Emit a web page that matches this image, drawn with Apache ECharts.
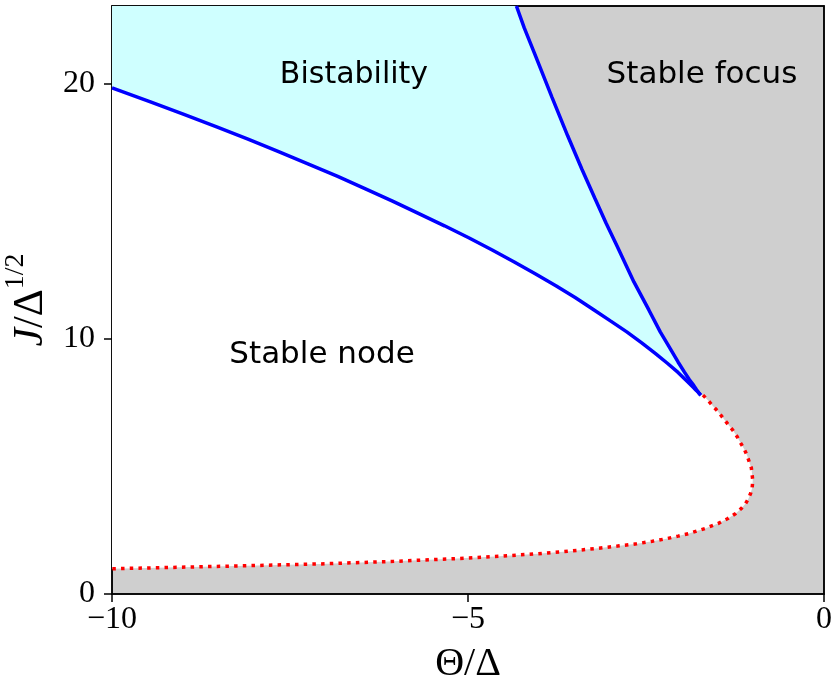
<!DOCTYPE html>
<html>
<head>
<meta charset="utf-8">
<script src="https://cdn.jsdelivr.net/npm/echarts@6/dist/echarts.min.js"></script>
<style>html,body{margin:0;padding:0;background:#fff}#c{width:834px;height:689px}</style>
</head>
<body>
<div id="c"></div>
<script>
// Axis ranges / ticks
const xMin = -10, xMax = 0, xTicks = [-10, -5, 0];
const yMin = 0, yMax = 23.06, yTicks = [0, 10, 20];

// Upper saddle-node branch (blue), from left edge to the cusp
const upperBranch = [
  [-10.0, 19.85], [-9.46, 19.30], [-8.99, 18.81], [-8.53, 18.32], [-8.09, 17.84],
  [-7.66, 17.35], [-7.24, 16.86], [-6.83, 16.38], [-6.44, 15.89], [-6.06, 15.41],
  [-5.69, 14.92], [-5.33, 14.44], [-4.99, 13.97], [-4.66, 13.49], [-4.35, 13.02],
  [-4.05, 12.55], [-3.76, 12.08], [-3.49, 11.62], [-3.24, 11.16], [-3.00, 10.71],
  [-2.77, 10.28], [-2.56, 9.85], [-2.37, 9.44], [-2.20, 9.05], [-2.05, 8.69],
  [-1.93, 8.36], [-1.83, 8.09], [-1.80, 8.00], [-1.77, 7.92], [-1.75, 7.86],
  [-1.74, 7.82], [-1.73, 7.80]
];
// Steep saddle-node branch (blue), from the cusp to the top edge
const steepBranch = [
  [-1.73, 7.80], [-1.74, 7.84], [-1.76, 7.90], [-1.79, 8.01], [-1.83, 8.18],
  [-1.89, 8.40], [-1.96, 8.70], [-2.05, 9.10], [-2.16, 9.62], [-2.30, 10.28],
  [-2.46, 11.14], [-2.67, 12.24], [-2.91, 13.67], [-3.06, 14.54], [-3.22, 15.53],
  [-3.40, 16.66], [-3.60, 17.97], [-3.82, 19.48], [-4.07, 21.23], [-4.21, 22.20],
  [-4.32, 23.06]
];
// Node / focus boundary (red dotted), from the cusp round to the left edge
const nodeFocus = [
  [-1.70, 7.80], [-1.63, 7.60], [-1.57, 7.40], [-1.49, 7.16], [-1.42, 6.91],
  [-1.35, 6.66], [-1.28, 6.42], [-1.22, 6.17], [-1.17, 5.92], [-1.12, 5.68],
  [-1.08, 5.43], [-1.05, 5.18], [-1.02, 4.94], [-1.01, 4.69], [-1.00, 4.44],
  [-1.01, 4.15], [-1.03, 3.95], [-1.06, 3.75], [-1.10, 3.55], [-1.16, 3.36],
  [-1.24, 3.16], [-1.35, 2.96], [-1.49, 2.76], [-1.67, 2.57], [-1.90, 2.37],
  [-2.05, 2.27], [-2.21, 2.17], [-2.41, 2.07], [-2.63, 1.97], [-2.90, 1.88],
  [-3.21, 1.78], [-3.58, 1.68], [-4.02, 1.58], [-4.56, 1.48], [-5.22, 1.38],
  [-6.04, 1.28], [-7.07, 1.18], [-8.40, 1.09], [-10.0, 0.99]
];
// Region labels
const regionLabels = ['Bistability', 'Stable focus', 'Stable node'];

const chart = echarts.init(document.getElementById('c'), null, {renderer: 'canvas'});

const nodeRegion = upperBranch.concat(nodeFocus);
const bistRegion = upperBranch.concat(steepBranch, [[xMin, yMax]]);

function polygonSeries(points, color) {
  return {
    type: 'custom', silent: true, animation: false, z: 1,
    data: points,
    renderItem: function (params, api) {
      if (params.dataIndex !== 0) return null;
      return {
        type: 'polygon',
        shape: {points: points.map(p => api.coord(p))},
        style: {fill: color, stroke: null}
      };
    }
  };
}

const tickFont = {fontFamily: 'Liberation Serif', fontSize: 32, color: '#000'};
const minus = v => String(v).replace('-', '\u2212');
const serif = 'Liberation Serif';

chart.setOption({
  animation: false,
  grid: {left: 112, right: 10, top: 6, bottom: 95, show: true, containLabel: false,
         outerBoundsMode: 'none',
         backgroundColor: '#cfcfcf', borderColor: '#000', borderWidth: 1.5},
  xAxis: [{
    type: 'value', min: xMin, max: xMax, interval: 5, position: 'bottom',
    splitLine: {show: false},
    axisLine: {show: true, onZero: false, lineStyle: {color: '#000', width: 1.5}},
    axisTick: {show: true, length: 8, lineStyle: {color: '#000', width: 1.5}, customValues: xTicks},
    axisLabel: Object.assign({margin: 10, formatter: minus, customValues: xTicks}, tickFont),
    name: '{a|Θ/Δ}', nameLocation: 'middle', nameGap: 50,
    nameTextStyle: {rich: {a: {fontFamily: serif, fontSize: 40, color: '#000'}}}
  }, {
    type: 'value', min: xMin, max: xMax, position: 'top',
    splitLine: {show: false}, axisTick: {show: false}, axisLabel: {show: false},
    axisLine: {show: true, onZero: false, lineStyle: {color: '#000', width: 1.5}}
  }],
  yAxis: [{
    type: 'value', min: yMin, max: yMax, interval: 10, position: 'left',
    splitLine: {show: false},
    axisLine: {show: true, onZero: false, lineStyle: {color: '#000', width: 1.5}},
    axisTick: {show: true, length: 8, lineStyle: {color: '#000', width: 1.5}, customValues: yTicks},
    axisLabel: Object.assign({margin: 17, formatter: minus, customValues: yTicks}, tickFont),
    name: '{i|J}{n|/Δ}{s|1/2}', nameLocation: 'middle', nameGap: 54, nameRotate: 90,
    nameTextStyle: {rich: {
      i: {fontFamily: serif, fontStyle: 'italic', fontSize: 42, color: '#000', lineHeight: 50, verticalAlign: 'bottom'},
      n: {fontFamily: serif, fontSize: 42, color: '#000', lineHeight: 50, verticalAlign: 'bottom'},
      s: {fontFamily: serif, fontSize: 28, color: '#000', lineHeight: 50, verticalAlign: 'top'}
    }}
  }, {
    type: 'value', min: yMin, max: yMax, position: 'right',
    splitLine: {show: false}, axisTick: {show: false}, axisLabel: {show: false},
    axisLine: {show: true, onZero: false, lineStyle: {color: '#000', width: 1.5}}
  }],
  series: [
    polygonSeries(bistRegion, '#cfffff'),
    polygonSeries(nodeRegion, '#ffffff'),
    {type: 'line', data: nodeFocus, showSymbol: false, silent: true, z: 3,
     lineStyle: {color: '#ff0000', width: 3.5, type: [3.5, 5.2], cap: 'butt'}},
    {type: 'line', data: upperBranch, showSymbol: false, silent: true, z: 4,
     lineStyle: {color: '#0000ff', width: 3.5}},
    {type: 'line', data: steepBranch, showSymbol: false, silent: true, z: 4,
     lineStyle: {color: '#0000ff', width: 3.5}}
  ],
  graphic: [
    {type: 'text', x: 354, y: 75, z: 10, silent: true,
     style: {text: regionLabels[0], fontFamily: 'DejaVu Sans', fontSize: 30, fill: '#000', align: 'center', verticalAlign: 'middle'}},
    {type: 'text', x: 702, y: 75, z: 10, silent: true,
     style: {text: regionLabels[1], fontFamily: 'DejaVu Sans', fontSize: 31, fill: '#000', align: 'center', verticalAlign: 'middle'}},
    {type: 'text', x: 322, y: 355, z: 10, silent: true,
     style: {text: regionLabels[2], fontFamily: 'DejaVu Sans', fontSize: 31, fill: '#000', align: 'center', verticalAlign: 'middle'}}
  ]
});
</script>
</body>
</html>
